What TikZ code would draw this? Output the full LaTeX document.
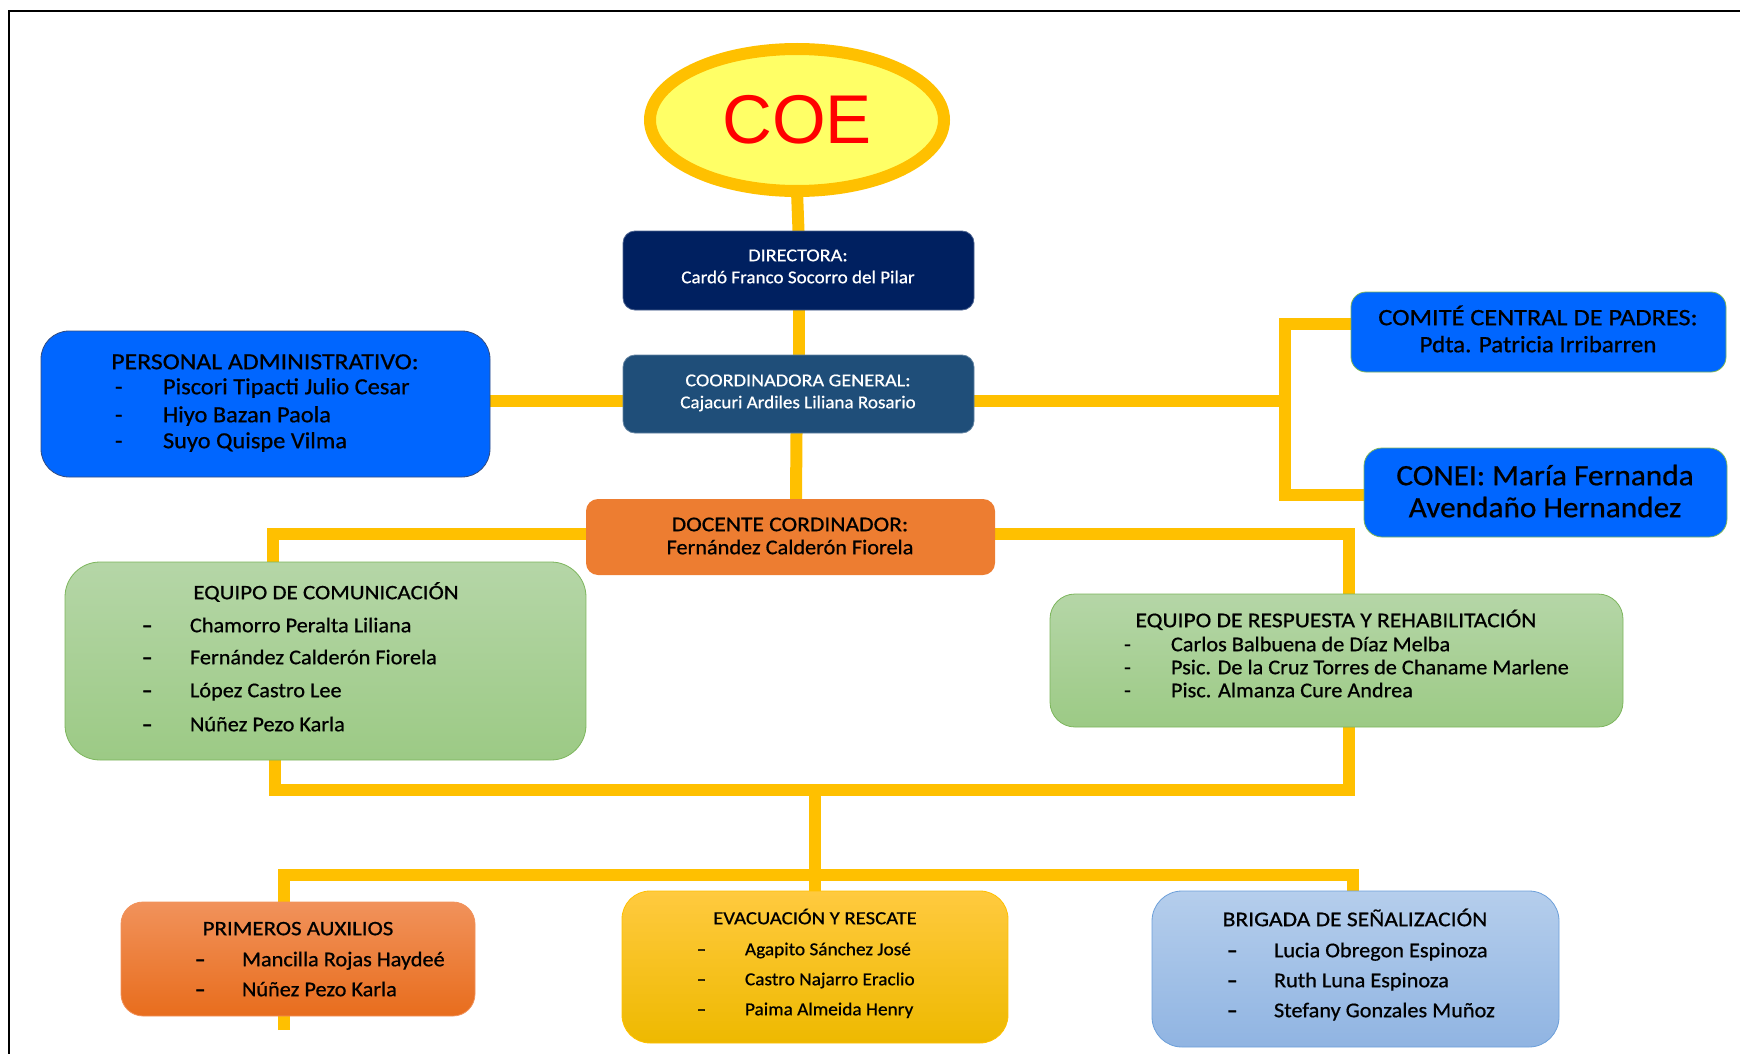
\documentclass[tikz,border=0pt]{standalone}
\usepackage{fontspec}
\setmainfont{Carlito}[FakeBold=0.7, FakeStretch=1.06]
\newfontfamily\capsfont{Carlito}[FakeBold=0.7, FakeStretch=1.12]
\newfontfamily\dashfont{Carlito}[FakeBold=2.2]
\newfontfamily\coefont{Liberation Sans}
\usetikzlibrary{shapes.geometric,backgrounds}

\definecolor{linkgold}{HTML}{FFC000}
\definecolor{coefill}{HTML}{FFFF66}
\definecolor{coered}{HTML}{FF0000}
\definecolor{dirblue}{HTML}{002060}
\definecolor{coordblue}{HTML}{1F4E79}
\definecolor{brightblue}{HTML}{0066FF}
\definecolor{docorange}{HTML}{ED7D31}
\definecolor{greentop}{HTML}{B5D6A7}
\definecolor{greenbot}{HTML}{9CCA85}
\definecolor{greenline}{HTML}{7CB55C}
\definecolor{primtop}{HTML}{F1925B}
\definecolor{primbot}{HTML}{E86D1D}
\definecolor{evactop}{HTML}{FFCA3F}
\definecolor{evacbot}{HTML}{EEB900}
\definecolor{brigtop}{HTML}{B5CEEC}
\definecolor{brigbot}{HTML}{90B4E2}
\definecolor{brigline}{HTML}{6C9FD9}

\newcommand{\bardash}{{\dashfont –}}

\begin{document}
\begin{tikzpicture}[x=1pt,y=-1pt,
  conn/.style={draw=linkgold, line width=12pt},
  card/.style={rectangle, inner sep=0pt, outer sep=0pt},
  txt/.style={inner sep=0pt, outer sep=0pt, text height=0.66em, text depth=0.02em, yshift=-3pt},
]
\useasboundingbox (0,0) rectangle (1740,1054);

% page frame (top and left rules)
\draw[line width=2.5pt, black] (9,1054) -- (9,11) -- (1740,11);

% ---------- boxes ----------
\node[ellipse, draw=linkgold, fill=coefill, line width=12pt, inner sep=0pt, outer sep=0pt,
      minimum width=294pt, minimum height=142pt] (coe) at (797,120) {};
\node[text=coered, inner sep=0pt] (coetxt) at (797,120) {\coefont\fontsize{69}{72}\selectfont COE};

\node[card, rounded corners=12pt, fill=dirblue, draw=dirblue!70!white, line width=0.8pt,
      minimum width=351pt, minimum height=79pt] (dir) at (798.5,270.5) {};
\node[card, rounded corners=12pt, fill=coordblue, draw=coordblue!70!white, line width=0.8pt,
      minimum width=351pt, minimum height=78pt] (coord) at (798.5,394) {};
\node[card, rounded corners=28pt, fill=brightblue, draw=dirblue!80, line width=0.8pt,
      minimum width=449pt, minimum height=146pt] (pers) at (265.5,404) {};
\node[card, rounded corners=15pt, fill=brightblue, draw=greenline, line width=0.8pt,
      minimum width=375pt, minimum height=80pt] (comite) at (1538.5,332) {};
\node[card, rounded corners=18pt, fill=brightblue, draw=greenline, line width=0.8pt,
      minimum width=363pt, minimum height=89pt] (conei) at (1545.5,492.5) {};
\node[card, rounded corners=12pt, fill=docorange,
      minimum width=409pt, minimum height=76pt] (doc) at (790.5,537) {};
\node[card, rounded corners=35pt, top color=greentop, bottom color=greenbot, draw=greenline, line width=0.8pt,
      minimum width=521pt, minimum height=198pt] (com) at (325.5,661) {};
\node[card, rounded corners=25pt, top color=greentop, bottom color=greenbot, draw=greenline, line width=0.8pt,
      minimum width=573pt, minimum height=133pt] (resp) at (1336.5,660.5) {};
\node[card, rounded corners=22pt, top color=primtop, bottom color=primbot, draw=primtop, line width=0.8pt,
      minimum width=354pt, minimum height=114pt] (prim) at (298,959) {};
\node[card, rounded corners=28pt, top color=evactop, bottom color=evacbot, draw=linkgold, line width=0.8pt,
      minimum width=386pt, minimum height=152pt] (evac) at (815,967) {};
\node[card, rounded corners=30pt, top color=brigtop, bottom color=brigbot, draw=brigline, line width=0.8pt,
      minimum width=407pt, minimum height=156pt] (brig) at (1355.5,969) {};

% ---------- connectors (behind the boxes) ----------
\coordinate (jr) at (1285,401);
\coordinate (hub) at (815,790);
\coordinate (hub2) at (815,875);
\coordinate (primtail) at (284,1030);
\begin{scope}[on background layer]
  \draw[conn] (coe.south) -- (dir.north);
  \draw[conn] (dir.south) -- (coord.north);
  \draw[conn] ([xshift=-2pt]coord.south) -- ([xshift=5.5pt]doc.north);
  \draw[conn] (pers.east |- jr) -- (coord.west |- jr);
  \draw[conn] (coord.east |- jr) -- (jr);
  \draw[conn] ([yshift=8pt]comite.west) -| (jr) |- ([yshift=-2.5pt]conei.west);
  \draw[conn] ([yshift=3pt]doc.west) -| ([xshift=-52.5pt]com.north);
  \draw[conn] ([yshift=3pt]doc.east) -| ([xshift=12.5pt]resp.north);
  \draw[conn] ([xshift=-50.5pt]com.south) |- (hub) -| ([xshift=12.5pt]resp.south);
  \draw[conn] (hub) -- (hub2);
  \draw[conn] (primtail) |- (hub2) -| ([xshift=-2.5pt]brig.north);
  \draw[conn] (hub2) -- (evac.north);
\end{scope}

% ---------- texts ----------
\begin{scope}[every node/.append style={txt}]
  % Directora / Coordinadora
  \node[text=white, font=\capsfont\fontsize{18}{20}\selectfont] (t1) at (798,255) {DIRECTORA:};
  \node[text=white, font=\fontsize{18}{20}\selectfont] (t2) at (798,277) {Cardó Franco Socorro del Pilar};
  \node[text=white, font=\capsfont\fontsize{18}{20}\selectfont] (t3) at (798,380) {COORDINADORA GENERAL:};
  \node[text=white, font=\fontsize{18}{20}\selectfont] (t4) at (798,402) {Cajacuri Ardiles Liliana Rosario};

  % Personal administrativo
  \begin{scope}[every node/.append style={font=\fontsize{23}{25}\selectfont}]
    \node[font=\capsfont\fontsize{23}{25}\selectfont] (pa0) at (265,363) {PERSONAL ADMINISTRATIVO:};
    \node[anchor=west] (pad1) at (115,388) {-};
    \node[anchor=west] (pad2) at (115,416) {-};
    \node[anchor=west] (pad3) at (115,442) {-};
    \node[anchor=west] (pa1) at (163,388) {Piscori Tipacti Julio Cesar};
    \node[anchor=west] (pa2) at (163,416) {Hiyo Bazan Paola};
    \node[anchor=west] (pa3) at (163,442) {Suyo Quispe Vilma};
  \end{scope}

  % Comité / CONEI
  \node[font=\capsfont\fontsize{23.5}{25}\selectfont] (cp1) at (1538,319) {COMITÉ CENTRAL DE PADRES:};
  \node[font=\fontsize{23.5}{25}\selectfont] (cp2) at (1538,346) {Pdta. Patricia Irribarren};
  \node[font=\fontsize{29.5}{32}\selectfont] (cn1) at (1545,479) {CONEI: María Fernanda};
  \node[font=\fontsize{29.5}{32}\selectfont] (cn2) at (1545,511) {Avendaño Hernandez};

  % Docente coordinador
  \node[font=\capsfont\fontsize{21}{23}\selectfont] (dc1) at (790,525) {DOCENTE CORDINADOR:};
  \node[font=\fontsize{21}{23}\selectfont] (dc2) at (790,548) {Fernández Calderón Fiorela};

  % Equipo de comunicación
  \begin{scope}[every node/.append style={font=\fontsize{21}{23}\selectfont}]
    \node[font=\capsfont\fontsize{20.5}{23}\selectfont] (ec0) at (326,593) {EQUIPO DE COMUNICACIÓN};
    \foreach \y/\n [count=\i] in {626/Chamorro Peralta Liliana, 658/Fernández Calderón Fiorela,
                                  691/López Castro Lee, 725/Núñez Pezo Karla} {
      \node[anchor=west] (ecd\i) at (142,\y) {\bardash};
      \node[anchor=west] (ec\i) at (190,\y) {\n};
    }
  \end{scope}

  % Equipo de respuesta
  \begin{scope}[every node/.append style={font=\fontsize{21}{23}\selectfont}]
    \node[font=\capsfont\fontsize{21}{23}\selectfont] (er0) at (1336,621) {EQUIPO DE RESPUESTA Y REHABILITACIÓN};
    \foreach \y/\n [count=\i] in {645/Carlos Balbuena de Díaz Melba,
                                  668/Psic. De la Cruz Torres de Chaname Marlene,
                                  691/Pisc. Almanza Cure Andrea} {
      \node[anchor=west] (erd\i) at (1124,\y) {-};
      \node[anchor=west] (er\i) at (1171,\y) {\n};
    }
  \end{scope}

  % Primeros auxilios
  \begin{scope}[every node/.append style={font=\fontsize{21}{23}\selectfont}]
    \node[font=\capsfont\fontsize{20.5}{23}\selectfont] (pr0) at (298,929) {PRIMEROS AUXILIOS};
    \foreach \y/\n [count=\i] in {960/Mancilla Rojas Haydeé, 990/Núñez Pezo Karla} {
      \node[anchor=west] (prd\i) at (195,\y) {\bardash};
      \node[anchor=west] (pr\i) at (242,\y) {\n};
    }
  \end{scope}

  % Evacuación y rescate
  \begin{scope}[every node/.append style={font=\fontsize{18.2}{20}\selectfont}]
    \node[font=\capsfont\fontsize{18.5}{20}\selectfont] (ev0) at (815,918) {EVACUACIÓN Y RESCATE};
    \foreach \y/\n [count=\i] in {949/Agapito Sánchez José, 979/Castro Najarro Eraclio,
                                  1009/Paima Almeida Henry} {
      \node[anchor=west] (evd\i) at (697,\y) {\bardash};
      \node[anchor=west] (ev\i) at (745,\y) {\n};
    }
  \end{scope}

  % Brigada de señalización
  \begin{scope}[every node/.append style={font=\fontsize{21}{23}\selectfont}]
    \node[font=\capsfont\fontsize{21}{23}\selectfont] (bs0) at (1355,920) {BRIGADA DE SEÑALIZACIÓN};
    \foreach \y/\n [count=\i] in {951/Lucia Obregon Espinoza, 981/Ruth Luna Espinoza,
                                  1011/Stefany Gonzales Muñoz} {
      \node[anchor=west] (bsd\i) at (1227,\y) {\bardash};
      \node[anchor=west] (bs\i) at (1274,\y) {\n};
    }
  \end{scope}
\end{scope}
\end{tikzpicture}
\end{document}
